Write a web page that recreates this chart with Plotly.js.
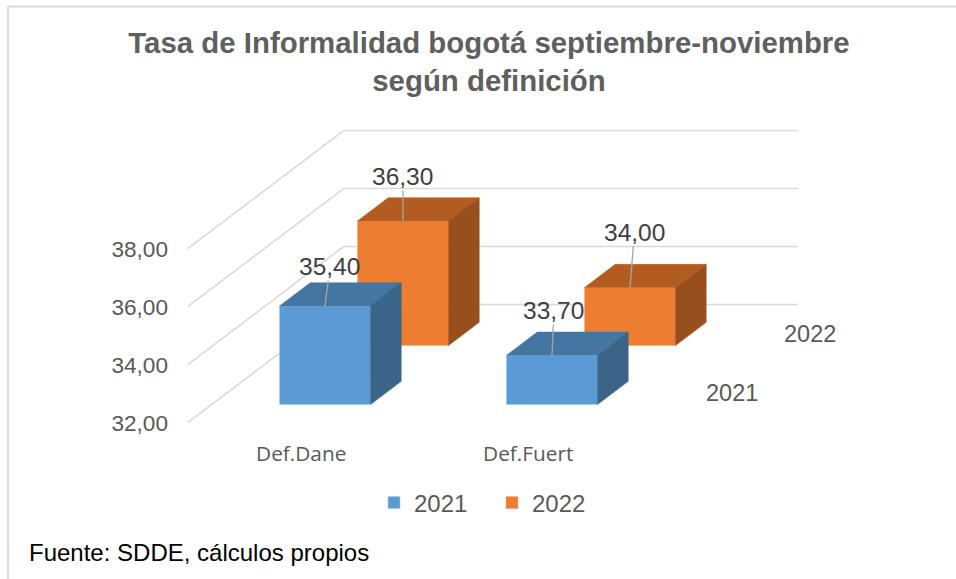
<!DOCTYPE html>
<html><head><meta charset="utf-8">
<script src="https://cdn.plot.ly/plotly-3.0.1.min.js"></script>
<style>html,body{margin:0;padding:0;background:#fff;overflow:hidden}</style>
</head><body><div id="c" style="width:956px;height:579px"></div>
<script>
const categories = ['Def.Dane', 'Def.Fuert'];
const values2021 = [35.40, 33.70];
const values2022 = [36.30, 34.00];
const yTicks = [32, 34, 36, 38];
const seriesNames = ['2021', '2022'];

const W = 956, H = 579;
const M = {l: 169, r: 36, t: 110, b: 140};
const pxPerCat = 227, catZero = 301.2, pxPerUnit = 29, y32 = 422.6;
const DX = 156 / pxPerCat, DY = 118 / pxPerUnit;
const barW = 91 / pxPerCat, barD = 0.197;
const rows = [{d: 0.1525, vals: values2021, name: seriesNames[0], front: '#5B9BD5', top: '#4576A2', side: '#3A6488', edge: '#A9C9E8'},
              {d: 0.6525, vals: values2022, name: seriesNames[1], front: '#ED7D31', top: '#B25C22', side: '#984F1D', edge: '#F4B183'}];
const base = 32;
const px = (c, d) => c + DX * d;
const py = (v, d) => v + DY * d;
const comma = v => v.toFixed(2).replace('.', ',');

const traces = [];
// back row first so the front row is painted over it
[rows[1], rows[0]].forEach(r => {
  traces.push({type: 'bar', name: r.name, x: categories.map((_, c) => px(c, r.d)), y: r.vals.map(v => v - base),
    base: py(base, r.d), width: barW, marker: {color: r.front, line: {color: r.edge, width: 0.6}}, hoverinfo: 'skip'});
});
[rows[1], rows[0]].forEach(r => {
  r.vals.forEach((v, c) => {
    const xl = px(c, r.d) - barW / 2, xr = xl + barW, dx = DX * barD, dy = DY * barD, t = py(v, r.d), b = py(base, r.d);
    traces.push({type: 'scatter', mode: 'lines', fill: 'toself', fillcolor: r.top, line: {color: r.top, width: 0.5},
      x: [xl, xr, xr + dx, xl + dx, xl], y: [t, t, t + dy, t + dy, t], showlegend: false, hoverinfo: 'skip'});
    traces.push({type: 'scatter', mode: 'lines', fill: 'toself', fillcolor: r.side, line: {color: r.side, width: 0.5},
      x: [xr, xr + dx, xr + dx, xr, xr], y: [t, t + dy, b + dy, b, t], showlegend: false, hoverinfo: 'skip'});
  });
});

const gridLine = {color: '#d9d9d9', width: 1.5};
const shapes = [];
yTicks.forEach(v => {
  shapes.push({type: 'line', layer: 'below', xref: 'x', yref: 'y', x0: -0.5, y0: v, x1: px(-0.5, 1), y1: py(v, 1), line: gridLine});
  shapes.push({type: 'line', layer: 'below', xref: 'x', yref: 'y', x0: px(-0.5, 1), y0: py(v, 1), x1: px(1.5, 1), y1: py(v, 1), line: gridLine});
});
const pw = W - M.l - M.r, ph = H - M.t - M.b;
const paperX = p => (p - M.l) / pw, paperY = p => 1 - (p - M.t) / ph;
const frame = {color: '#d9d9d9', width: 2};
shapes.push({type: 'line', xref: 'paper', yref: 'paper', x0: paperX(8), y0: paperY(6.5), x1: paperX(8), y1: paperY(H), line: frame});
shapes.push({type: 'line', xref: 'paper', yref: 'paper', x0: paperX(8), y0: paperY(6.5), x1: paperX(W), y1: paperY(6.5), line: frame});

const labelOffsets = [[[5, -39.5], [2, -44.5]], [[0, -44.5], [4.5, -55.5]]];
const annotations = [];
rows.forEach((r, ri) => r.vals.forEach((v, c) => {
  annotations.push({x: px(c, r.d), y: py(v, r.d), xref: 'x', yref: 'y', text: comma(v), showarrow: true, arrowhead: 0, arrowwidth: 1.3, arrowcolor: '#a6a6a6',
    axref: 'pixel', ayref: 'pixel', ax: labelOffsets[ri][c][0], ay: labelOffsets[ri][c][1], font: {family: 'Liberation Sans', size: 24.5, color: '#404040'}, borderpad: 0, standoff: 0});
}));
rows.forEach(r => {
  annotations.push({x: px(1.5, r.d + barD / 2), y: py(base, r.d + barD / 2), xref: 'x', yref: 'y', text: r.name, showarrow: false, xshift: 51,
    font: {family: 'Liberation Sans', size: 23.5, color: '#595959'}});
});
annotations.push({xref: 'paper', yref: 'paper', x: paperX(27), y: paperY(552), xanchor: 'left', yanchor: 'middle', text: 'Fuente: SDDE, cálculos propios', showarrow: false,
  font: {family: 'Liberation Sans', size: 24, color: '#000'}});

const layout = {
  width: W, height: H, margin: M, paper_bgcolor: '#fff', plot_bgcolor: 'rgba(0,0,0,0)', barmode: 'overlay', separators: ',.',
  title: {text: 'Tasa de Informalidad bogotá septiembre-noviembre<br>según definición', x: 489 / W, xanchor: 'center', y: 0.908, yanchor: 'top', xref: 'container', yref: 'container',
    font: {family: 'Liberation Sans', size: 29.4, color: '#5f5f5f', weight: 'bold'}},
  xaxis: {range: [(M.l - catZero) / pxPerCat, (W - M.r - catZero) / pxPerCat], tickvals: categories.map((_, c) => c), ticktext: categories, showgrid: false, zeroline: false, showline: false, ticks: '',
    tickfont: {family: 'Open Sans', size: 20.8, color: '#595959'}},
  yaxis: {range: [base + (y32 - (H - M.b)) / pxPerUnit, base + (y32 - M.t) / pxPerUnit], tickvals: yTicks, tickformat: '.2f', showgrid: false, zeroline: false, showline: false, ticks: '',
    tickfont: {family: 'Liberation Sans', size: 22.6, color: '#595959'}},
  legend: {orientation: 'h', x: paperX(374), xanchor: 'left', y: paperY(503), yanchor: 'middle', traceorder: 'reversed', entrywidth: 73, entrywidthmode: 'pixels', font: {family: 'Liberation Sans', size: 24, color: '#595959'}},
  shapes, annotations, showlegend: true
};
Plotly.newPlot('c', traces, layout, {displayModeBar: false, responsive: false});
</script></body></html>
